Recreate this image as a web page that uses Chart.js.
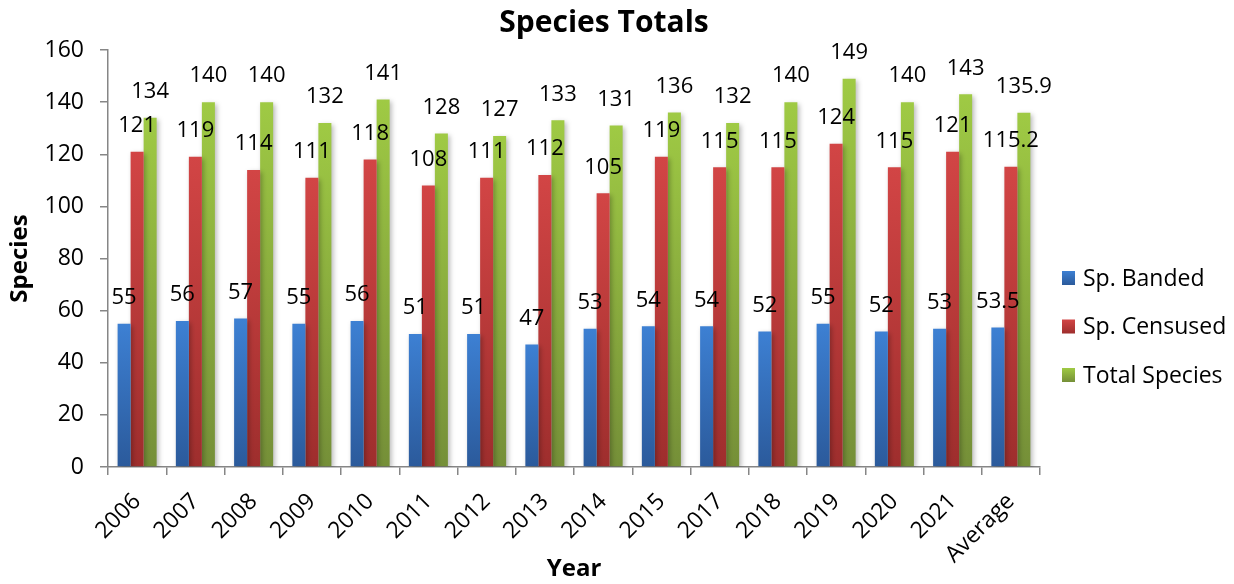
<!DOCTYPE html>
<html>
<head>
<meta charset="utf-8">
<script src="https://cdn.jsdelivr.net/npm/chart.js@4/dist/chart.umd.min.js"></script>
<style>
  html, body { margin: 0; padding: 0; background: #ffffff; }
  #wrap { width: 1234px; height: 584px; position: relative; }
</style>
</head>
<body>
<div id="wrap"><canvas id="c" width="1234" height="584"></canvas></div>
<script>
// Years surveyed plus the overall average column
const years = ['2006','2007','2008','2009','2010','2011','2012','2013','2014','2015','2017','2018','2019','2020','2021','Average'];
const banded   = [55, 56, 57, 55, 56, 51, 51, 47, 53, 54, 54, 52, 55, 52, 53, 53.5];
const censused = [121, 119, 114, 111, 118, 108, 111, 112, 105, 119, 115, 115, 124, 115, 121, 115.2];
const totals   = [134, 140, 140, 132, 141, 128, 127, 133, 131, 136, 132, 140, 149, 140, 143, 135.9];
const yTicks   = [0, 20, 40, 60, 80, 100, 120, 140, 160];

const FONT = '"Open Sans", Lato, "DejaVu Sans", sans-serif';

// top / bottom colours of each series' vertical gradient
const shades = [
  ['#3d80d3', '#2b5a9b'],
  ['#d24545', '#9e2e2d'],
  ['#9fca44', '#758f38']
];

function barFill(idx) {
  return function (ctx) {
    const chart = ctx.chart;
    if (ctx.type !== 'data' || !chart.chartArea) return shades[idx][0];
    const ys = chart.scales.y;
    const top = ys.getPixelForValue(ctx.raw);
    const bot = ys.getPixelForValue(0);
    if (!isFinite(top) || !isFinite(bot) || top === bot) return shades[idx][0];
    const g = chart.ctx.createLinearGradient(0, top, 0, bot);
    g.addColorStop(0, shades[idx][0]);
    g.addColorStop(1, shades[idx][1]);
    return g;
  };
}

// soft drop shadow under the bars
const barShadow = {
  id: 'barShadow',
  beforeDatasetsDraw(chart) {
    const c = chart.ctx;
    c.save();
    c.shadowColor = 'rgba(0,0,0,0.28)';
    c.shadowBlur = 5;
    c.shadowOffsetX = 2;
    c.shadowOffsetY = 2;
  },
  afterDatasetsDraw(chart) {
    chart.ctx.restore();
  }
};

// value labels above every bar
const valueLabels = {
  id: 'valueLabels',
  afterDatasetsDraw(chart) {
    const c = chart.ctx;
    c.save();
    c.font = '22px ' + FONT;
    c.fillStyle = '#000000';
    c.textAlign = 'center';
    c.textBaseline = 'bottom';
    chart.data.datasets.forEach((ds, i) => {
      const meta = chart.getDatasetMeta(i);
      meta.data.forEach((bar, j) => {
        c.fillText(String(ds.data[j]), bar.x, bar.y - 15);
      });
    });
    c.restore();
  }
};

// title and legend placed beside the plot
const furniture = {
  id: 'furniture',
  afterDraw(chart) {
    const c = chart.ctx;
    c.save();
    c.fillStyle = '#000000';
    c.font = 'bold 30px ' + FONT;
    c.textAlign = 'center';
    c.textBaseline = 'middle';
    c.fillText('Species Totals', 604, 23);

    c.font = '23px ' + FONT;
    c.textAlign = 'left';
    chart.data.datasets.forEach((ds, i) => {
      const cy = 278 + i * 48.5;
      const g = c.createLinearGradient(0, cy - 7, 0, cy + 7);
      g.addColorStop(0, shades[i][0]);
      g.addColorStop(1, shades[i][1]);
      c.fillStyle = g;
      c.fillRect(1062, cy - 7, 13, 14);
      c.fillStyle = '#000000';
      c.fillText(ds.label, 1083, cy + 1);
    });
    c.restore();
  }
};

const axisGrey = '#868686';

new Chart(document.getElementById('c'), {
  type: 'bar',
  data: {
    labels: years,
    datasets: [
      { label: 'Sp. Banded',    data: banded,   backgroundColor: barFill(0) },
      { label: 'Sp. Censused',  data: censused, backgroundColor: barFill(1) },
      { label: 'Total Species', data: totals,   backgroundColor: barFill(2) }
    ]
  },
  options: {
    responsive: false,
    animation: false,
    layout: { padding: { top: 50, right: 194, bottom: 0, left: 0 } },
    datasets: { bar: { categoryPercentage: 0.67, barPercentage: 1.0, borderWidth: 0 } },
    plugins: {
      legend: { display: false },
      title: { display: false },
      tooltip: { enabled: false }
    },
    scales: {
      x: {
        offset: true,
        afterFit(s) { s.height = 117; },
        grid: {
          offset: true,
          drawOnChartArea: false,
          drawTicks: true,
          tickLength: 8,
          color: axisGrey,
          lineWidth: 1.5
        },
        border: { display: true, color: axisGrey, width: 1.5 },
        ticks: {
          color: '#000000',
          font: { family: FONT, size: 23 },
          minRotation: 45,
          maxRotation: 45,
          autoSkip: false,
          padding: 13
        },
        title: {
          display: true,
          text: 'Year',
          color: '#000000',
          font: { family: FONT, size: 24, weight: 'bold' },
          padding: { top: 0, bottom: 0 }
        }
      },
      y: {
        min: 0,
        max: 160,
        afterFit(s) { s.width = 108; },
        afterBuildTicks(s) { s.ticks = yTicks.map(v => ({ value: v })); },
        grid: {
          drawOnChartArea: false,
          drawTicks: true,
          tickLength: 8,
          color: axisGrey,
          lineWidth: 1.5
        },
        border: { display: true, color: axisGrey, width: 1.5 },
        ticks: {
          color: '#000000',
          font: { family: FONT, size: 23 },
          padding: 16
        },
        title: {
          display: true,
          text: 'Species',
          color: '#000000',
          font: { family: FONT, size: 24, weight: 'bold' },
          padding: { top: 6, bottom: 0 }
        }
      }
    }
  },
  plugins: [barShadow, valueLabels, furniture]
});
</script>
</body>
</html>
